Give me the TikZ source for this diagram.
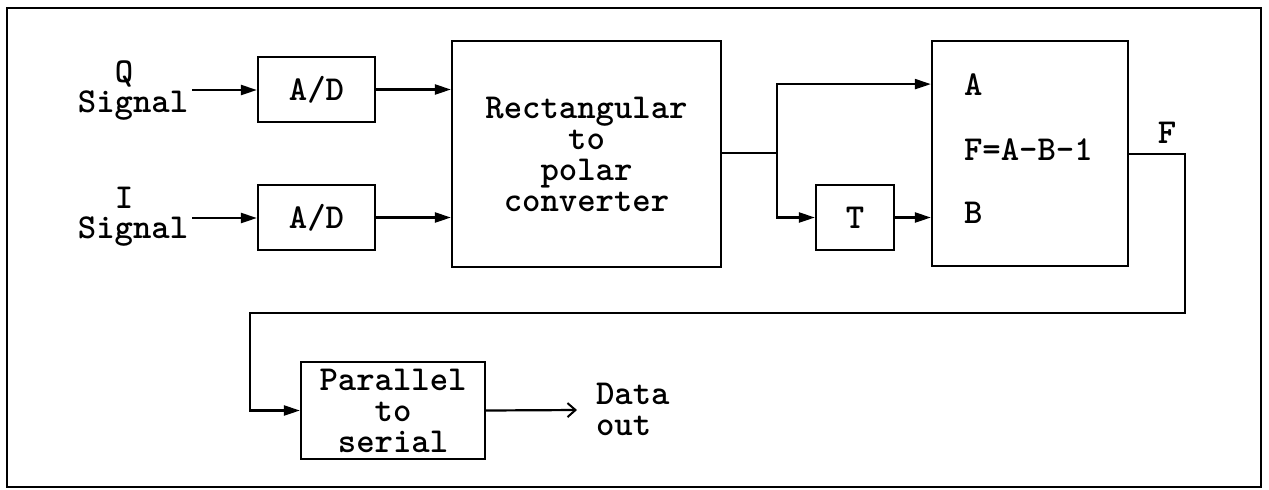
\documentclass[tikz,border=0pt]{standalone}
\usepackage{fontspec}
\usetikzlibrary{arrows.meta}
\begin{document}
\begin{tikzpicture}[x=0.5pt,y=-0.5pt,
  line width=1.1pt,
  every node/.style={font=\ttfamily\bfseries\fontsize{17.5pt}{15.5pt}\selectfont, inner sep=0pt},
  blk/.style={draw, line width=1.1pt, align=center},
  lbl/.style={anchor=base},
  arr/.style={-{Triangle[length=8pt,width=5pt]}},
  openarr/.style={-{Straight Barb[length=4pt,width=7pt,line width=1pt]}}]
\useasboundingbox (0,0) rectangle (1269,489);
\draw (7,8) rectangle (1261,487);
% blocks
\node[blk, minimum width=58.5pt, minimum height=32.5pt] (adq) at (316.5,89.5) {A/D};
\node[blk, minimum width=58.5pt, minimum height=32.5pt] (adi) at (316.5,217.5) {A/D};
\node[blk, minimum width=134.5pt, minimum height=113pt] (conv) at (586.5,154) {Rectangular\\to\\polar\\converter};
\node[blk, minimum width=39pt, minimum height=32.5pt] (tdel) at (855,217.5) {T};
\node[blk, minimum width=98pt, minimum height=112.5pt] (sub) at (1030,153.5) {};
\node[blk, minimum width=92pt, minimum height=48.5pt] (ps) at (393,410.5) {Parallel\\to\\serial};
% labels
\node[lbl] (qlab) at (124,82) {Q};
\node[lbl] (qsig) at (133,112) {Signal};
\node[lbl] (ilab) at (124,208) {I};
\node[lbl] (isig) at (133,238) {Signal};
\node[lbl, anchor=base west] (la) at (963,95) {A};
\node[lbl, anchor=base west] (lf) at (963,160) {F=A-B-1};
\node[lbl, anchor=base west] (lb) at (963,223) {B};
\node[lbl] (flab) at (1167,143) {F};
\node[align=left, anchor=west] (dout) at (595,409) {Data\\out};
% coordinates
\coordinate (qin) at (192,90);
\coordinate (iin) at (192,218);
\coordinate (br) at (777,153);
\coordinate (fc1) at (1185,154);
\coordinate (fc2) at (1185,313);
\coordinate (fc3) at (250,313);
\coordinate (dend) at (577,410);
% connectors
\draw[arr] (qin) -- (adq.west |- qin);
\draw[arr] (iin) -- (adi.west |- iin);
\draw[arr] (adq.east) -- (conv.west |- adq.east);
\draw[arr] (adi.east) -- (conv.west |- adi.east);
\draw (conv.east |- br) -- (br);
\draw[arr] (br) |- (sub.west |- la.center);
\draw[arr] (br) |- (tdel.west);
\draw[arr] (tdel.east) -- (sub.west |- tdel.east);
\draw[arr] (sub.east |- fc1) -- (fc1) -- (fc2) -- (fc3) |- (ps.west);
\draw[openarr] (ps.east) -- (dend);
\end{tikzpicture}
\end{document}
